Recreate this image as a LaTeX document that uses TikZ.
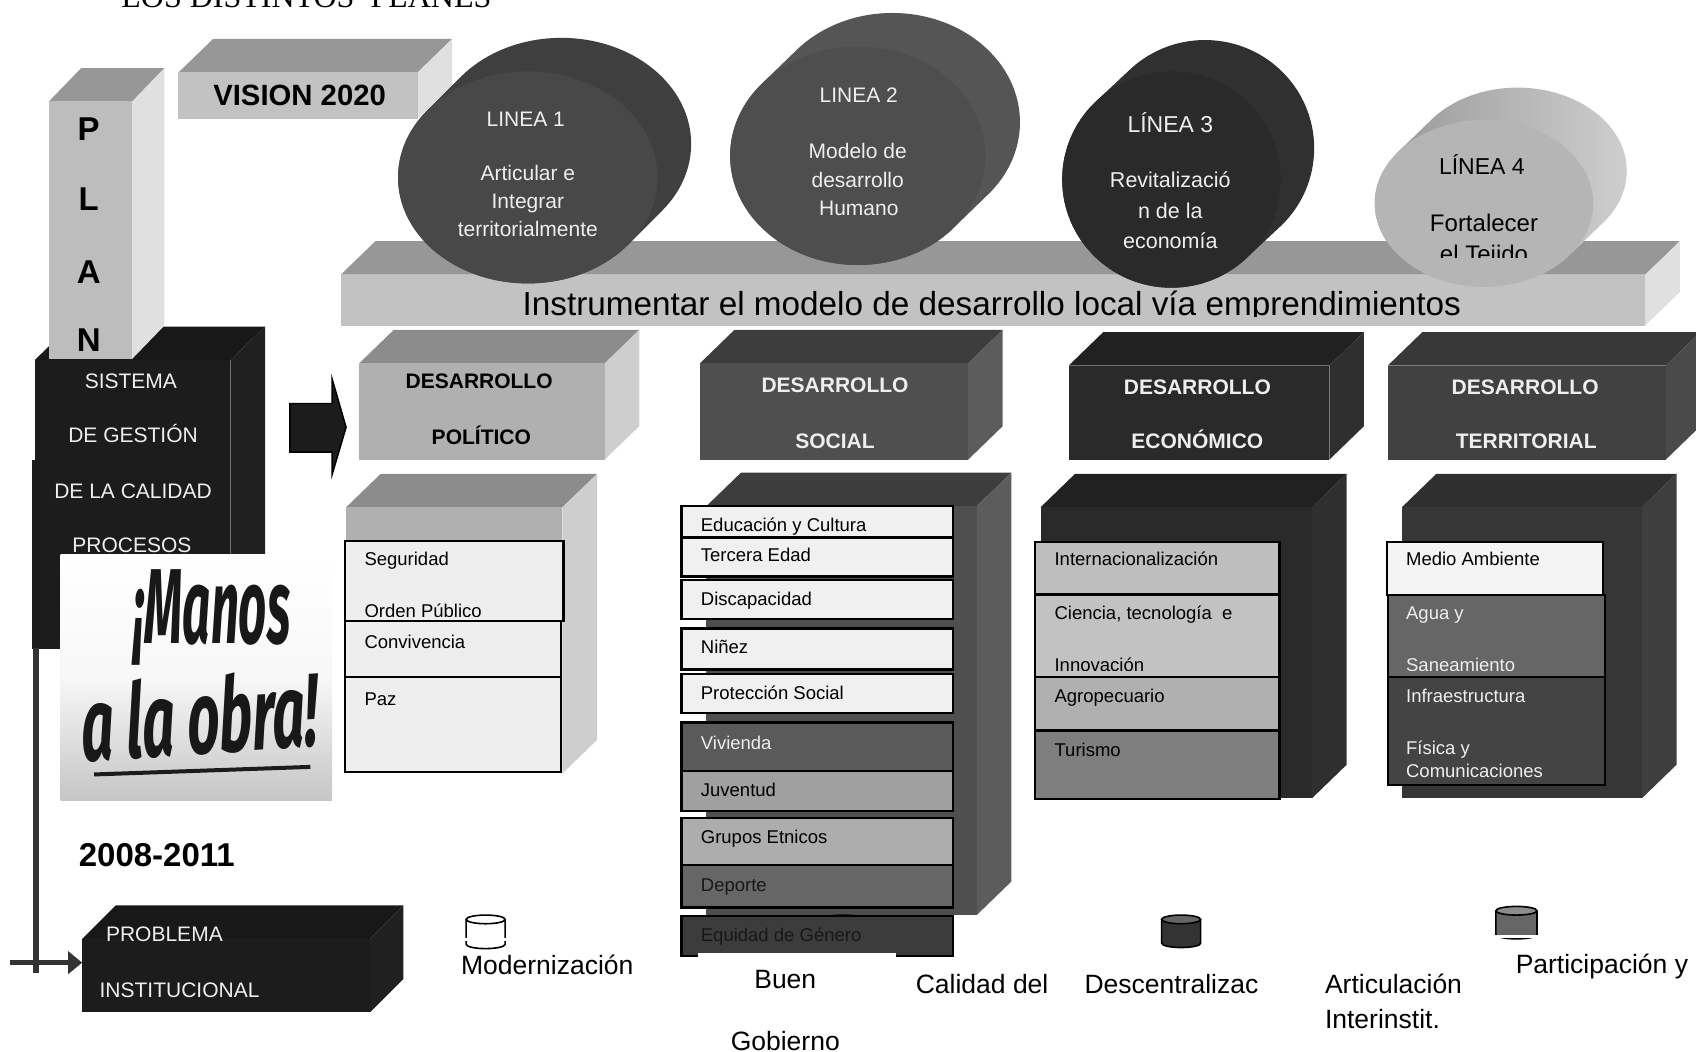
\documentclass[tikz,border=0pt]{standalone}
\usepackage{fontspec}
\setmainfont{Liberation Sans}
\newfontfamily\serifface{Liberation Serif}
\newfontfamily\handface{Fira Sans}
\usetikzlibrary{arrows.meta}
\newcommand\fsz[1]{\fontsize{#1}{#1}\selectfont}
\definecolor{litea}{HTML}{C2C2C2}\definecolor{liteb}{HTML}{979797}\definecolor{litec}{HTML}{E0E0E0}
\definecolor{pola}{HTML}{B0B0B0}\definecolor{polb}{HTML}{8C8C8C}\definecolor{polc}{HTML}{CECECE}
\definecolor{soca}{HTML}{4F4F4F}\definecolor{socb}{HTML}{3D3D3D}\definecolor{socc}{HTML}{5C5C5C}
\definecolor{ecoa}{HTML}{2A2A2A}\definecolor{ecob}{HTML}{212121}\definecolor{ecoc}{HTML}{2F2F2F}
\definecolor{tera}{HTML}{414141}\definecolor{terb}{HTML}{383838}\definecolor{terc}{HTML}{4A4A4A}
\definecolor{tlwa}{HTML}{363636}\definecolor{tlwb}{HTML}{2F2F2F}\definecolor{tlwc}{HTML}{3E3E3E}
\definecolor{blka}{HTML}{1C1C1C}\definecolor{blkb}{HTML}{181818}\definecolor{blkc}{HTML}{202020}
\definecolor{inka}{HTML}{EEEEEE}\definecolor{lgray}{HTML}{F0F0F0}
\definecolor{cyla}{HTML}{3F3F3F}\definecolor{cylb}{HTML}{484848}
\definecolor{cylc}{HTML}{555555}\definecolor{cyld}{HTML}{4E4E4E}
\definecolor{cyle}{HTML}{303030}\definecolor{cylf}{HTML}{2A2A2A}
\definecolor{cylg}{HTML}{B5B5B5}
\definecolor{wire}{HTML}{333333}
\definecolor{HTMLfive}{HTML}{5A5A5A}\definecolor{HTMLjuv}{HTML}{A0A0A0}
\definecolor{HTMLgru}{HTML}{ADADAD}\definecolor{HTMLdep}{HTML}{666666}
\definecolor{HTMLequ}{HTML}{3C3C3C}\definecolor{HTMLint}{HTML}{BEBEBE}
\definecolor{HTMLtur}{HTML}{7E7E7E}\definecolor{HTMLmed}{HTML}{F4F4F4}
\definecolor{HTMLagu}{HTML}{666666}\definecolor{HTMLinf}{HTML}{444444}
% name, x1,y1,x2,y2, depth, front, top, side
\newcommand\cuboid[9]{%
  \fill[#8] (#2,#3) -- ({#2+#6},{#3-31}) -- ({#4+#6},{#3-31}) -- (#4,#3) -- cycle;
  \fill[#9] (#4,#3) -- ({#4+#6},{#3-31}) -- ({#4+#6},{#5-31}) -- (#4,#5) -- cycle;
  \fill[#7] (#2,#3) rectangle (#4,#5);
  \coordinate (#1) at ({(#2+#4)/2},{(#3+#5)/2});}
% name, cx,cy,rx,ry,dx,dy, side style, front colour
\newcommand\cylin[9]{%
  \path[#8] foreach \t in {0,0.04,...,1.001} {({#2+#6*\t},{#3+#7*\t}) ellipse [x radius=#4,y radius=#5]};
  \fill[#9] (#2,#3) ellipse [x radius=#4,y radius=#5];
  \coordinate (#1) at (#2,#3);}
% x1,y1,x2,y2,fill
\newcommand\entrybox[5]{\draw[line width=2.2pt,draw=black,fill=#5] (#1,#2) rectangle (#3,#4);}
% name, cx, ytop, ybottom, halfwidth, fill
\newcommand\legcyl[6]{%
  \draw[line width=1.6pt,fill=#6] ({#2-#5},{#3+4}) -- ({#2-#5},{#4-4}) arc[start angle=180,end angle=0,x radius=#5,y radius=4] -- ({#2+#5},{#3+4});
  \draw[line width=1.6pt,fill=#6!75!white] (#2,{#3+4}) ellipse [x radius=#5,y radius=4];
  \coordinate (#1) at (#2,{(#3+#4)/2});}
\tikzset{
  sz/.code={\pgfmathsetmacro\hgt{#1*0.72}\edef\tmpk{\noexpand\tikzset{text height=\hgt pt}}\tmpk\tikzset{font=\fsz{#1}}},
  bsz/.code={\pgfmathsetmacro\hgt{#1*0.72}\edef\tmpk{\noexpand\tikzset{text height=\hgt pt}}\tmpk\tikzset{font=\fsz{#1}\bfseries}},
  txt/.style={inner sep=0pt,outer sep=0pt,text depth=0pt,sz=19},
  lin/.style={txt,sz=21,text=inka},
  dev/.style={txt,bsz=21},
  sis/.style={txt,sz=21,text=inka},
  ent/.style={txt,anchor=west,sz=18.5},
  leg/.style={txt,sz=26.5},
  pln/.style={txt,bsz=33},
}
\begin{document}
\begin{tikzpicture}[x=1.0816pt,y=-1.0816pt]
\useasboundingbox (0,0) rectangle (1568,971.7);
\clip (0,0) rectangle (1568,971.7);
\node[inner sep=0pt,anchor=base west,font=\fsz{32}\serifface] (titulo) at (112,7) {LOS DISTINTOS\ \ PLANES};

% sistema block
\cuboid{sistema}{32}{333}{213}{600}{32}{blka}{blkb}{blkc}
\fill[blka] (30,425) rectangle (56,600);
\node[sis] (s1) at (121,352) {SISTEMA};
\node[sis] (s2) at (123,402) {DE GESTIÓN};
\node[sis] (s3) at (123,454) {DE LA CALIDAD};
\node[sis] (s4) at (122,504) {PROCESOS};
% plan column
\cuboid{plancol}{45}{94}{122}{332}{30}{litea!70!pola}{liteb}{litec}
\node[pln] (pP) at (82,119) {P};
\node[pln] (pL) at (82,184) {L};
\node[pln] (pA) at (82,251) {A};
\begin{scope}
\clip (60,290) rectangle (110,332);
\node[pln] (pN) at (82,314) {N};
\end{scope}
% vision
\cuboid{vision}{165}{67}{386}{110}{32}{litea}{liteb}{litec}
\node[txt,bsz=29.3] (visiontx) at (277,88) {VISION 2020};
% bar
\cuboid{barra}{315}{254}{1521}{301}{32}{litea}{liteb}{litec}
\begin{scope}
\clip (315,254) rectangle (1521,293);
\node[txt,sz=33.3] (barratx) at (917,281) {Instrumentar el modelo de desarrollo local vía emprendimientos};
\end{scope}
% lineas
\cylin{l1}{488}{164}{120}{98}{31}{-31}{fill=cyla}{cylb}
\node[lin] (l1a) at (486,110) {LINEA 1};
\node[lin] (l1b) at (488,160) {Articular e};
\node[lin] (l1c) at (488,186) {Integrar};
\node[lin] (l1d) at (488,212) {territorialmente};
\cylin{l2}{793}{144}{118}{101}{32}{-31}{fill=cylc}{cyld}
\node[lin] (l2a) at (794,88) {LINEA 2};
\node[lin] (l2b) at (793,140) {Modelo de};
\node[lin] (l2c) at (793,166) {desarrollo};
\node[lin] (l2d) at (794,192) {Humano};
\cylin{l3}{1083}{166}{101}{100}{31}{-29}{fill=cyle}{cylf}
\node[lin,sz=23] (l3a) at (1082,115) {LÍNEA 3};
\node[lin,sz=21.5] (l3b) at (1082,166) {Revitalizació};
\node[lin,sz=21.5] (l3c) at (1082,195) {n de la};
\node[lin,sz=21.5] (l3d) at (1082,223) {economía};
\cylin{l4}{1372}{188}{101}{77}{31}{-30}{left color=liteb,right color=polc}{cylg}
\node[txt,sz=23] (l4a) at (1370,154) {LÍNEA 4};
\node[txt,sz=24] (l4b) at (1372,206) {Fortalecer};
\begin{scope}
\clip (1300,220) rectangle (1440,238);
\node[txt,sz=24] (l4c) at (1372,235) {el Tejido};
\end{scope}
% desarrollo boxes
\cuboid{dpol}{332}{336}{559}{425}{32}{pola}{polb}{polc}
\node[dev] (dp1) at (443,352) {DESARROLLO};
\begin{scope}
\clip (380,390) rectangle (491,420);
\node[dev] (dp2) at (445,404) {POLÍTICO};
\end{scope}
\cuboid{dsoc}{647}{336}{895}{425}{32}{soca}{socb}{socc}
\node[dev,text=inka] (ds1) at (772,356) {DESARROLLO};
\node[dev,text=inka] (ds2) at (772,408) {SOCIAL};
\cuboid{deco}{988}{338}{1229}{425}{32}{ecoa}{ecob}{ecoc}
\node[dev,text=inka] (de1) at (1107,358) {DESARROLLO};
\node[dev,text=inka] (de2) at (1107,408) {ECONÓMICO};
\cuboid{dter}{1283}{338}{1540}{425}{32}{tera}{terb}{terc}
\node[dev,text=inka] (dt1) at (1410,358) {DESARROLLO};
\node[dev,text=inka] (dt2) at (1411,408) {TERRITORIAL};
% block arrow
\draw[line width=1.4pt,fill=blka] (268,373) -- (307,373) -- (307,350) -- (320,395) -- (307,439) -- (307,418) -- (268,418) -- cycle;

% lower politico
\cuboid{lpol}{320}{469}{520}{715}{32}{pola}{polb}{polc}
\entrybox{319}{500}{521}{574}{inka}
\entrybox{319}{574}{519}{626}{inka}
\entrybox{319}{626}{519}{714}{inka}
\node[ent] (e1) at (337,517) {Seguridad};
\begin{scope}
\clip (330,550) rectangle (510,570);
\node[ent] (e2) at (337,565) {Orden Público};
\end{scope}
\node[ent] (e3) at (337,593) {Convivencia};
\node[ent] (e4) at (337,646) {Paz};

% lower social
\cuboid{lsoc}{653}{468}{903}{846}{32}{soca}{socb}{socc}
\fill[blka] (765,848) arc[start angle=180,end angle=360,x radius=15,y radius=3];
\entrybox{630}{468}{881}{497}{lgray}
\entrybox{630}{497}{881}{533}{lgray}
\entrybox{630}{536}{881}{572}{lgray}
\entrybox{630}{581}{881}{619}{lgray}
\entrybox{630}{623}{881}{659}{lgray}
\entrybox{630}{668}{881}{713}{HTMLfive}
\entrybox{630}{713}{881}{750}{HTMLjuv}
\entrybox{630}{756}{881}{800}{HTMLgru}
\entrybox{630}{800}{881}{839}{HTMLdep}
\entrybox{630}{847}{881}{884}{HTMLequ}
\fill[white] (645,881) rectangle (828,885);
\node[ent] (f1) at (648,485) {Educación y Cultura};
\node[ent] (f2) at (648,513) {Tercera Edad};
\node[ent] (f3) at (648,554) {Discapacidad};
\node[ent] (f4) at (648,598) {Niñez};
\node[ent] (f5) at (648,641) {Protección Social};
\node[ent,text=inka] (f6) at (648,687) {Vivienda};
\node[ent] (f7) at (648,730) {Juventud};
\node[ent] (f8) at (648,774) {Grupos Etnicos};
\node[ent,text=blkb] (f9) at (648,818) {Deporte};
\node[ent,text=blkb] (f10) at (648,864) {Equidad de Género};

% lower economico
\cuboid{leco}{962}{469}{1213}{738}{32}{ecoa}{ecob}{ecoc}
\entrybox{957}{501}{1183}{549}{HTMLint}
\entrybox{957}{550}{1183}{626}{litea}
\entrybox{957}{626}{1183}{675}{pola}
\entrybox{957}{676}{1183}{739}{HTMLtur}
\node[ent] (g1) at (975,517) {Internacionalización};
\node[ent] (g2) at (975,567) {Ciencia, tecnología\ \ e};
\begin{scope}
\clip (970,600) rectangle (1170,620);
\node[ent] (g3) at (975,615) {Innovación};
\end{scope}
\node[ent] (g4) at (975,643) {Agropecuario};
\node[ent] (g5) at (975,693) {Turismo};

% lower territorial
\cuboid{lter}{1296}{469}{1518}{738}{32}{tlwa}{tlwb}{tlwc}
\entrybox{1282}{501}{1482}{550}{HTMLmed}
\entrybox{1283}{550}{1484}{626}{HTMLagu}
\entrybox{1283}{626}{1484}{726}{HTMLinf}
\node[ent] (h1) at (1300,517) {Medio Ambiente};
\node[ent,text=inka] (h2) at (1300,567) {Agua y};
\begin{scope}
\clip (1295,600) rectangle (1470,620);
\node[ent,text=inka] (h3) at (1300,615) {Saneamiento};
\end{scope}
\node[ent,text=inka] (h4) at (1300,643) {Infraestructura};
\node[ent,text=inka] (h5) at (1300,691) {Física y};
\node[ent,text=inka] (h6) at (1300,713) {Comunicaciones};

% picture "Manos a la obra"
\shade[top color=white,bottom color=gray!45,middle color=white!94!gray] (56,513) rectangle (307,740);
\begin{scope}
\clip (56,513) rectangle (307,740);
\node[inner sep=0pt,text=blkb,font=\fsz{82}\handface\bfseries\itshape,xscale=0.6,yscale=1.3] (manos) at (196,571) {¡Manos};
\node[inner sep=0pt,text=blkb,font=\fsz{78}\handface\bfseries\itshape,xscale=0.72,yscale=1.33,rotate=2] (obra) at (185,661) {a la obra!};
\draw[line width=4pt,draw=blka] (87,716) -- (287,709);
\end{scope}

% vertical wire with arrow
\coordinate (wiretop) at (33,599);
\coordinate (wirebot) at (33,900);
\coordinate (arrstart) at (9,890);
\coordinate (arrend) at (76,890);
\draw[line width=6pt,draw=wire] (wiretop) -- (wirebot);
\draw[line width=5pt,draw=wire,-{Triangle[length=14pt,width=22pt]}] (arrstart) -- (arrend);

% problema
\cuboid{prob}{76}{868}{342}{936}{31}{blka}{blkb}{blkc}
\node[sis] (pr1) at (152,863) {PROBLEMA};
\node[sis] (pr2) at (166,915) {INSTITUCIONAL};
\node[txt,bsz=33] (anios) at (145,790) {2008-2011};

% legend
\legcyl{c1}{449}{846}{877}{18}{white}
\fill[white] (429,867) rectangle (469,870);
\legcyl{c3}{1092}{846}{876}{18}{wire}
\legcyl{c4}{1402}{838}{868}{19}{HTMLagu}
\fill[white] (1381,864) rectangle (1423,867);
\node[leg] (k1) at (506,892) {Modernización};
\node[leg] (k2) at (726,905) {Buen};
\node[leg] (k3) at (726,962) {Gobierno};
\node[leg] (k4) at (908,910) {Calidad del};
\node[leg] (k5) at (1083,910) {Descentralizac};
\node[leg,anchor=west] (k6) at (1225,910) {Articulación};
\node[leg,anchor=west] (k7) at (1225,942) {Interinstit.};
\node[leg] (k8) at (1481,891) {Participación y};
\end{tikzpicture}
\end{document}
